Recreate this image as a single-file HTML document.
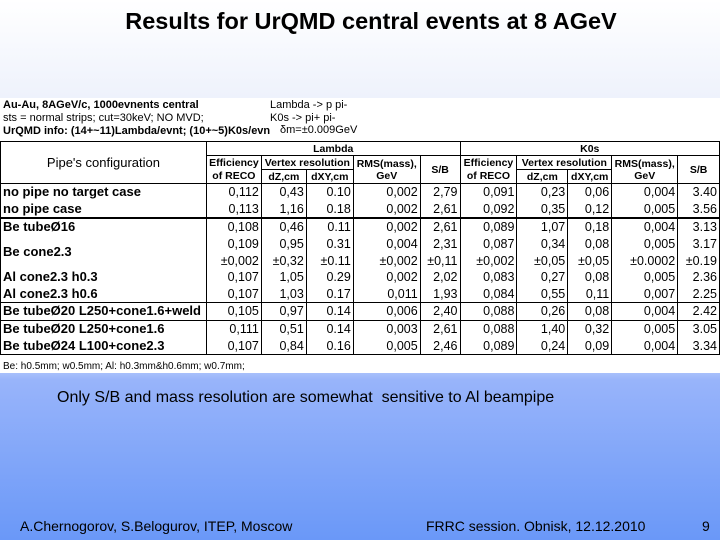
<!DOCTYPE html>
<html><head><meta charset="utf-8">
<style>
html,body{margin:0;padding:0}
body{width:720px;height:540px;position:relative;overflow:hidden;
 background:linear-gradient(to bottom,#ffffff 0px,#eef2fc 98px,#a8c0fb 373px,#98b4fa 380px,#6a98f8 540px);
 font-family:"Liberation Sans",Arial,sans-serif;color:#000}
.abs{position:absolute;white-space:nowrap}
#sheet{position:absolute;left:0;top:98px;width:720px;height:275px;background:#fff}
table{position:absolute;left:0;top:141px;border-collapse:collapse;table-layout:fixed}
td{border:1px solid #000;padding:0 2px;font-size:12.5px;line-height:12px;overflow:hidden;white-space:nowrap}
td.h{font-weight:bold;font-size:10.5px;text-align:center;height:13px}
td.n{text-align:right;border-top:none;border-bottom:none;height:16.6px}
td.l{text-align:left;border-top:none;border-bottom:none;font-weight:bold;font-size:13px}
tr.sep td{border-top:1px solid #000}
tr.thick td{border-top:2px solid #000}
tr.last td{border-bottom:1px solid #000}
.info{font-size:11px;font-weight:bold}
</style></head><body>
<div class="abs" style="left:0;width:742px;text-align:center;top:8px;font-size:23.5px;font-weight:bold">Results for UrQMD central events at 8 AGeV</div>
<div id="sheet"></div>
<div class="abs info" style="left:3px;top:99px">Au-Au, 8AGeV/c, 1000evnents central</div>
<div class="abs info" style="left:3px;top:112px;font-weight:normal">sts = normal strips; cut=30keV; NO MVD;</div>
<div class="abs info" style="left:3px;top:125px">UrQMD info: (14+~11)Lambda/evnt; (10+~5)K0s/evn</div>
<div class="abs info" style="left:270px;top:99px;font-weight:normal">Lambda -&gt; p pi-</div>
<div class="abs info" style="left:270px;top:112px;font-weight:normal">K0s -&gt; pi+ pi-</div>
<div class="abs info" style="left:280px;top:124px;font-weight:normal">δm=±0.009GeV</div>
<table id="tbl">
<colgroup><col style="width:206px"><col style="width:55px"><col style="width:45px"><col style="width:47px"><col style="width:67px"><col style="width:40px"><col style="width:57px"><col style="width:51px"><col style="width:44px"><col style="width:66px"><col style="width:42px"></colgroup>
<tr><td class="h" rowspan="3" style="font-size:13px;font-weight:normal">Pipe's configuration</td><td class="h" colspan="5">Lambda</td><td class="h" colspan="5">K0s</td></tr>
<tr><td class="h" style="border-bottom:none">Efficiency</td><td class="h" colspan="2">Vertex resolution</td><td class="h" rowspan="2">RMS(mass),<br>GeV</td><td class="h" rowspan="2">S/B</td><td class="h" style="border-bottom:none">Efficiency</td><td class="h" colspan="2">Vertex resolution</td><td class="h" rowspan="2">RMS(mass),<br>GeV</td><td class="h" rowspan="2">S/B</td></tr>
<tr><td class="h" style="border-top:none">of RECO</td><td class="h">dZ,cm</td><td class="h">dXY,cm</td><td class="h" style="border-top:none">of RECO</td><td class="h">dZ,cm</td><td class="h">dXY,cm</td></tr>
</table>
<div class="abs" style="left:3px;top:361px;font-size:10px">Be: h0.5mm; w0.5mm; Al: h0.3mm&amp;h0.6mm; w0.7mm;</div>
<div class="abs" style="left:57px;top:389px;font-size:16px">Only S/B and mass resolution are somewhat&nbsp; sensitive to Al beampipe</div>
<div class="abs" style="left:20px;top:518px;font-size:14px">A.Chernogorov, S.Belogurov, ITEP, Moscow</div>
<div class="abs" style="left:426px;top:518px;font-size:14px">FRRC session. Obnisk, 12.12.2010</div>
<div class="abs" style="left:702px;top:518px;font-size:14px">9</div>
<script>
const labels=["no pipe no target case","no pipe case","Be tubeØ16","Be cone2.3","","Al cone2.3 h0.3","Al cone2.3 h0.6","Be tubeØ20 L250+cone1.6+weld","Be tubeØ20 L250+cone1.6","Be tubeØ24 L100+cone2.3"];
const lamEff=["0,112","0,113","0,108","0,109","±0,002","0,107","0,107","0,105","0,111","0,107"];
const lamDZ=["0,43","1,16","0,46","0,95","±0,32","1,05","1,03","0,97","0,51","0,84"];
const lamDXY=["0.10","0.18","0.11","0.31","±0.11","0.29","0.17","0.14","0.14","0.16"];
const lamRMS=["0,002","0,002","0,002","0,004","±0,002","0,002","0,011","0,006","0,003","0,005"];
const lamSB=["2,79","2,61","2,61","2,31","±0,11","2,02","1,93","2,40","2,61","2,46"];
const kEff=["0,091","0,092","0,089","0,087","±0,002","0,083","0,084","0,088","0,088","0,089"];
const kDZ=["0,23","0,35","1,07","0,34","±0,05","0,27","0,55","0,26","1,40","0,24"];
const kDXY=["0,06","0,12","0,18","0,08","±0,05","0,08","0,11","0,08","0,32","0,09"];
const kRMS=["0,004","0,005","0,004","0,005","±0.0002","0,005","0,007","0,004","0,005","0,004"];
const kSB=["3.40","3.56","3.13","3.17","±0.19","2.36","2.25","2.42","3.05","3.34"];
const rowClass=["","","thick","","","","","sep","sep",""];
const tbl=document.getElementById('tbl');
const cols=[lamEff,lamDZ,lamDXY,lamRMS,lamSB,kEff,kDZ,kDXY,kRMS,kSB];
for(let i=0;i<labels.length;i++){
  const tr=document.createElement('tr');
  
  
  let c=rowClass[i];
  if(i===labels.length-1)c+=' last';
  tr.className=c;
  if(i!==4){
    const td=document.createElement('td');
    td.className='l';
    if(i===3){td.rowSpan=2;}
    td.textContent=labels[i];
    
    
    tr.appendChild(td);
  }
  for(const arr of cols){
    const td=document.createElement('td');
    td.className='n';
    td.textContent=arr[i];
    
    
    tr.appendChild(td);
  }
  tbl.appendChild(tr);
}
</script>
</body></html>
